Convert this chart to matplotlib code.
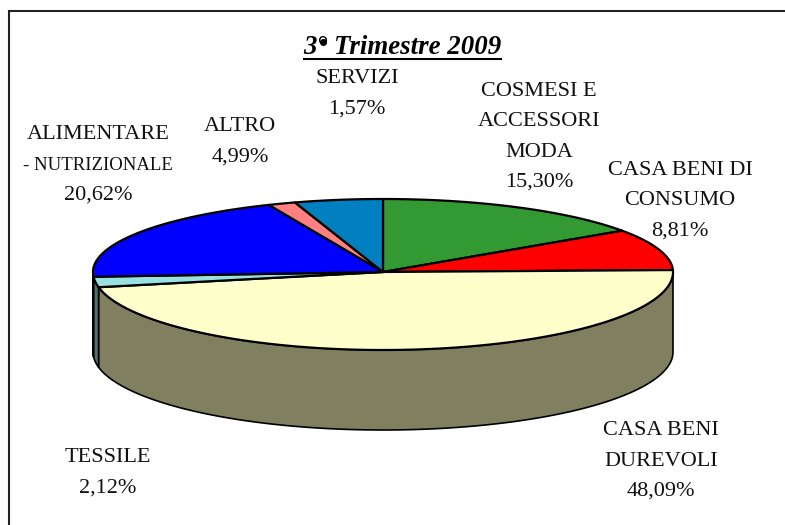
import matplotlib
matplotlib.use('Agg')
import matplotlib.pyplot as plt
from matplotlib.patches import Polygon
import numpy as np

# Values as printed on the labels (they add up to a bit over 100, the pie normalises them)
categories = ['COSMESI E\nACCESSORI\nMODA', 'CASA BENI DI\nCONSUMO', 'CASA BENI\nDUREVOLI',
              'TESSILE', 'ALIMENTARE\n- NUTRIZIONALE', 'ALTRO', 'SERVIZI']
label_values = [15.30, 8.81, 48.09, 2.12, 20.62, 4.99, 1.57]
# Slice order round the pie: pink is the small one, next to the top
slice_order = [0, 1, 2, 3, 4, 6, 5]
top_colors = ['#339933', '#FF0000', '#FFFFCC', '#99E0E0', '#0000FF', '#FF8080', '#0080C0']
side_colors = ['#1A4D1A', '#800000', '#808060', '#4D7070', '#000080', '#804040', '#004060']
title = '3° Trimestre 2009'

# Centre of each label in pixels
label_pos = [(539, 137), (680, 200.5), (661, 461), (108, 473), (98, 165.5), (240, 142), (357, 93.5)]

CX, CY = 383, 272
RX = 290
RY_UP, RY_DOWN = 73, 78
DEPTH = 80


def rim(theta):
    # theta in degrees, clockwise from the top of the pie
    t = np.radians(theta)
    ry = np.where(np.cos(t) > 0, RY_UP, RY_DOWN)
    return CX + RX * np.sin(t), CY - ry * np.cos(t)


fig = plt.figure(figsize=(7.85, 5.25), dpi=100)
ax = fig.add_axes([0, 0, 1, 1])
ax.set_xlim(0, 785)
ax.set_ylim(525, 0)
ax.axis('off')

# The frame is cut off on the right and at the bottom
ax.plot([9, 9, 785], [525, 11, 11], color='#222222', lw=1.5, solid_joinstyle='miter')

values = [label_values[i] for i in slice_order]
edges = np.concatenate([[0], np.cumsum(values)]) / sum(values) * 360
# Perspective pushes the edges near the left and right ends down a little
edges = edges + 3 * np.sin(np.radians(edges)) ** 4

# Side wall first, only the front half can be seen
for i in range(len(values)):
    a, b = max(edges[i], 90), min(edges[i + 1], 270)
    if b <= a:
        continue
    x, y = rim(np.linspace(a, b, 120))
    pts = np.vstack([np.column_stack([x, y]), np.column_stack([x[::-1], y[::-1] + DEPTH])])
    ax.add_patch(Polygon(pts, fc=side_colors[i], ec='black', lw=1.2, joinstyle='round'))

# Top face
for i in range(len(values)):
    x, y = rim(np.linspace(edges[i], edges[i + 1], 200))
    pts = np.vstack([[CX, CY], np.column_stack([x, y])])
    ax.add_patch(Polygon(pts, fc=top_colors[i], ec='black', lw=1.6, joinstyle='round'))

serif = 'Liberation Serif'
for name, val, (lx, ly) in zip(categories, label_values, label_pos):
    pct = f'{val:.2f}%'.replace('.', ',')
    if name.startswith('ALIMENTARE'):
        first, second = name.split('\n')
        ax.text(lx, ly - 31, first, family=serif, fontsize=16, ha='center', va='center', color='#111111')
        ax.text(lx, ly, second, family=serif, fontsize=13.5, ha='center', va='center', color='#111111')
        ax.text(lx, ly + 30, pct, family=serif, fontsize=16, ha='center', va='center', color='#111111')
    else:
        ax.text(lx, ly, name + '\n' + pct, family=serif, fontsize=16, ha='center', va='center',
                linespacing=1.8, color='#111111')

ax.text(402.5, 54, title, family=serif, fontsize=19.4, fontweight='bold', fontstyle='italic',
        ha='center', va='baseline')
# The degree sign is a solid dot in the original
ax.plot([323], [42], 'o', color='black', ms=4)
ax.plot([304, 501], [58.5, 58.5], color='black', lw=1.5)

plt.savefig('out.png', dpi=100)
plt.close()
